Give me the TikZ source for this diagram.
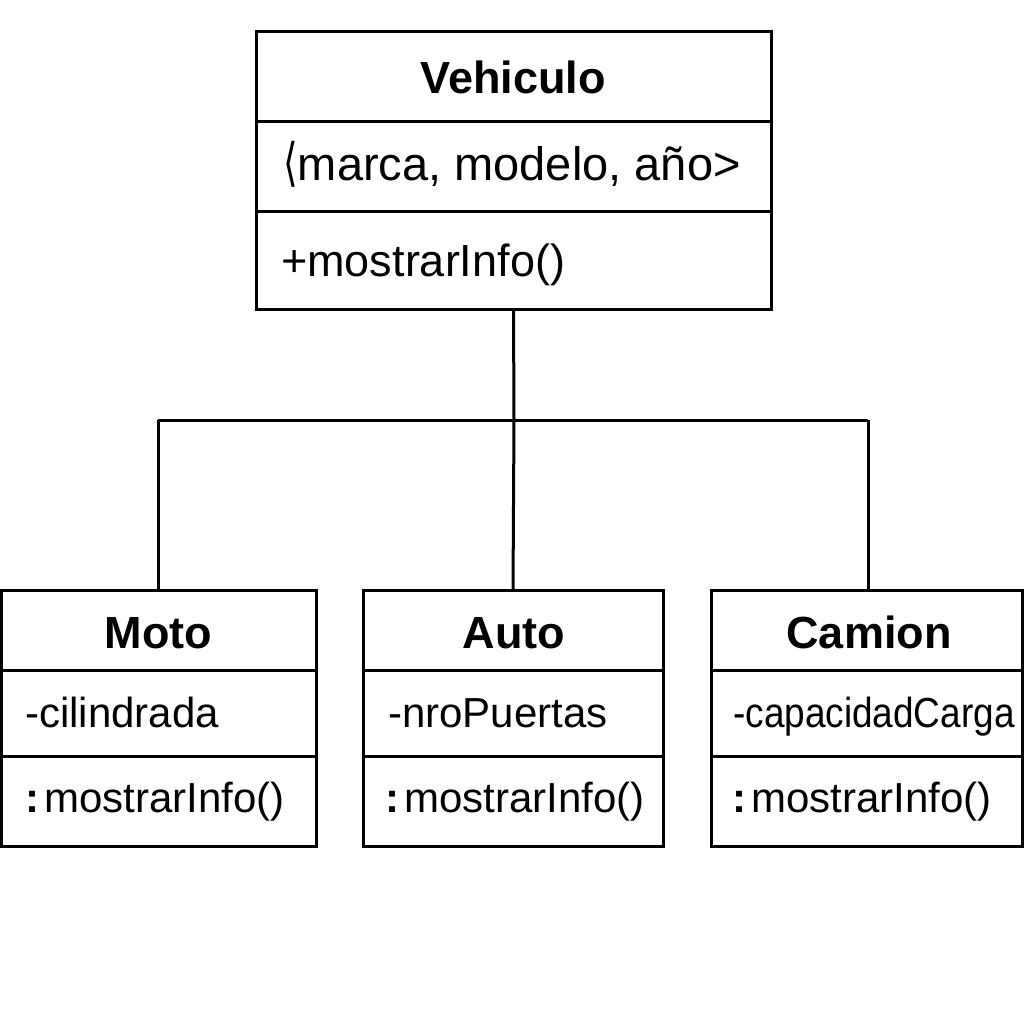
\documentclass[tikz,border=0pt]{standalone}
\usepackage{fontspec}
\setmainfont{Liberation Sans}
\newfontfamily\dvsans{DejaVu Sans}
\begin{document}
\begin{tikzpicture}[x=1pt,y=-1pt,
  box/.style={draw,line width=3pt,rectangle,inner sep=0pt,outer sep=0pt},
  ttl/.style={font=\fontsize{45}{50}\selectfont\bfseries,inner sep=0pt,anchor=base},
  big/.style={font=\fontsize{45}{50}\selectfont,inner sep=0pt,anchor=base west},
  sml/.style={font=\fontsize{42}{48}\selectfont,inner sep=0pt,anchor=base west},
  div/.style={line width=3pt},
  conn/.style={line width=3pt}]
\useasboundingbox[fill=white] (0,0) rectangle (1024,1024);
% Vehiculo
\node[box,minimum width=515pt,minimum height=277pt] (veh) at (513.5,170.5) {};
\draw[div] (veh.west |- 0,122) -- (veh.east |- 0,122);
\draw[div] (veh.west |- 0,212) -- (veh.east |- 0,212);
\node[ttl] (vehT) at (513,94) {Vehiculo};
\node[big,font=\fontsize{47}{52}\selectfont] (vehA) at (283,181) {{\dvsans\scalebox{0.8}[1.1]{⟨}}marca, modelo, año>};
\node[big] (vehM) at (281,276) {+mostrarInfo()};
% Moto
\node[box,minimum width=315pt,minimum height=256pt] (moto) at (158.5,718) {};
\draw[div] (moto.west |- 0,670) -- (moto.east |- 0,670);
\draw[div] (moto.west |- 0,756) -- (moto.east |- 0,756);
\node[ttl] (motoT) at (158.5,648) {Moto};
\node[sml] (motoA) at (25,727) {-cilindrada};
\node[sml] (motoM) at (25,812) {\textbf{:}\hspace{5pt}mostrarInfo()};
% Auto
\node[box,minimum width=300pt,minimum height=256pt] (auto) at (513,718) {};
\draw[div] (auto.west |- 0,670) -- (auto.east |- 0,670);
\draw[div] (auto.west |- 0,756) -- (auto.east |- 0,756);
\node[ttl] (autoT) at (514,648) {Auto};
\node[sml] (autoA) at (388,727) {-nroPuertas};
\node[sml] (autoM) at (385,812) {\textbf{:}\hspace{5pt}mostrarInfo()};
% Camion
\node[box,minimum width=311pt,minimum height=256pt] (cam) at (866.5,718) {};
\draw[div] (cam.west |- 0,670) -- (cam.east |- 0,670);
\draw[div] (cam.west |- 0,756) -- (cam.east |- 0,756);
\node[ttl] (camT) at (869,648) {Camion};
\node[sml] (camA) at (733,727) {\scalebox{0.88}[1]{-capacidadCarga}};
\node[sml] (camM) at (732,812) {\textbf{:}\hspace{5pt}mostrarInfo()};
% connectors
\coordinate (j) at (514,420);
\coordinate (jl) at (158,420);
\coordinate (jr) at (868,420);
\draw[conn] (veh.south) -- (j);
\draw[conn] (j) -- (auto.north);
\draw[conn,line join=miter] (jl) -- (jr);
\draw[conn] (jl) -- (jl |- moto.north);
\draw[conn] (jr) -- (jr |- cam.north);
\end{tikzpicture}
\end{document}
